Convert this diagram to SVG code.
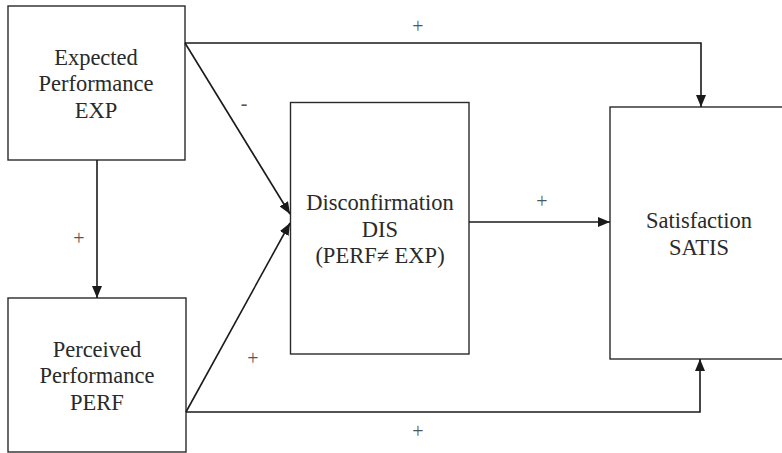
<svg xmlns="http://www.w3.org/2000/svg" width="782" height="453" viewBox="0 0 782 453">
<style>
.box{fill:#fff;stroke:#2a2a2a;stroke-width:1.4}
.t{font-family:'Liberation Serif',Tinos,'DejaVu Serif',serif;font-size:22.5px;fill:#2a2a2a;text-anchor:middle}
.c{fill:none;stroke:#1a1a1a;stroke-width:1.6}
.l{font-family:'Liberation Serif',Tinos,'DejaVu Serif',serif;font-size:20px;fill:#555;text-anchor:middle}
</style>
<defs>
<marker id="ah" viewBox="0 0 12 10" refX="12" refY="5" markerWidth="12" markerHeight="10" markerUnits="userSpaceOnUse" orient="auto">
<path d="M0,0 L12,5 L0,10 Z" fill="#1a1a1a"/>
</marker>
</defs>
<g id="exp">
<rect class="box" x="8" y="6" width="177" height="154"/>
<text class="t" x="96" y="65">Expected</text>
<text class="t" x="96" y="91">Performance</text>
<text class="t" x="96" y="118">EXP</text>
</g>
<g id="perf">
<rect class="box" x="8" y="298" width="178" height="154"/>
<text class="t" x="97" y="357">Perceived</text>
<text class="t" x="97" y="383">Performance</text>
<text class="t" x="97" y="410">PERF</text>
</g>
<g id="dis">
<rect class="box" x="290.5" y="102.5" width="178.5" height="251.5"/>
<text class="t" x="380" y="210">Disconfirmation</text>
<text class="t" x="380" y="237">DIS</text>
<text class="t" x="380" y="263">(PERF≠ EXP)</text>
</g>
<g id="satis">
<rect class="box" x="610" y="107" width="180" height="252"/>
<text class="t" x="699" y="228">Satisfaction</text>
<text class="t" x="699" y="255">SATIS</text>
</g>
<g id="connectors">
<path class="c" d="M97,160 L97,298" marker-end="url(#ah)"/>
<path class="c" d="M185,43 L290,214" marker-end="url(#ah)"/>
<path class="c" d="M186,412 L290,223" marker-end="url(#ah)"/>
<path class="c" d="M185,43 L701,43 L701,107" marker-end="url(#ah)"/>
<path class="c" d="M186,412 L700,412 L700,359" marker-end="url(#ah)"/>
<path class="c" d="M469,222 L610,222" marker-end="url(#ah)"/>
</g>
<g id="labels">
<text class="l" x="418" y="33">+</text>
<text class="l" x="244" y="110">-</text>
<text class="l" x="79" y="245">+</text>
<text class="l" x="542" y="208">+</text>
<text class="l" x="253" y="365">+</text>
<text class="l" x="418" y="438">+</text>
</g>
</svg>
